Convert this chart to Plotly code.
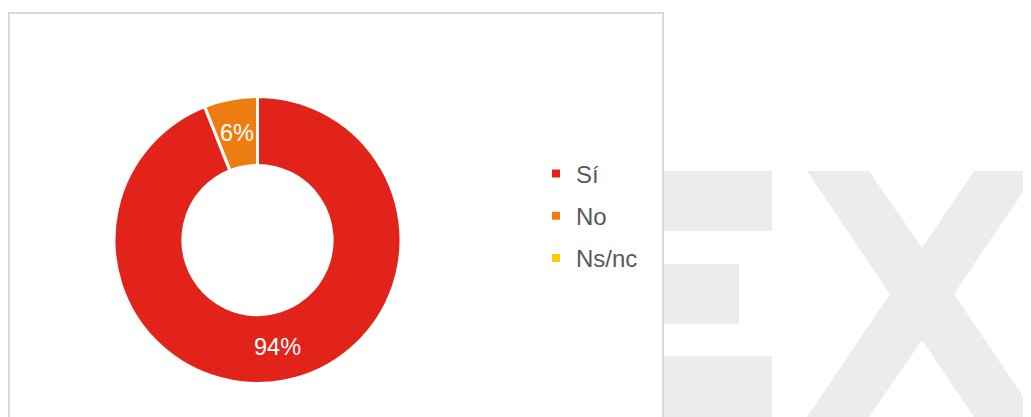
import math
import plotly.graph_objects as go

# Data
labels = ["Sí", "No", "Ns/nc"]
values = [94, 6, 0]
colors = ["#E2231A", "#EE7D11", "#FFCC00"]

# The page body has an 8px margin; size the figure so it fills the window
OFF = 8
W, H = 1031 - OFF, 417 - OFF

def px(x):
    return (x - OFF) / W

def py(y):
    return 1 - (y - OFF) / H

fig = go.Figure()

FONT = "Liberation Sans, Arial, sans-serif"

# Donut geometry (pixels in the window)
cx, cy, r = 257.5, 240.0, 143.5
hole = 0.52
fig.add_trace(go.Pie(
    labels=labels,
    values=values,
    textinfo="none",
    marker=dict(colors=colors, line=dict(color="white", width=3)),
    hole=hole,
    sort=False,
    direction="clockwise",
    rotation=0,
    showlegend=False,
    hoverinfo="label+percent",
    domain=dict(x=[px(cx - r), px(cx + r)], y=[py(cy + r), py(cy - r)]),
))

# Percentage labels placed at the middle of each ring segment
annotations = []
total = sum(values)
cum = 0.0
rm = r * (1 + hole) / 2
for v in values:
    if v > 0:
        mid = (cum + v / 2) / total * 2 * math.pi
        annotations.append(dict(
            xref="paper", yref="paper",
            x=px(cx + rm * math.sin(mid)), y=py(cy - rm * math.cos(mid)),
            text=f"{v}%", showarrow=False,
            font=dict(family=FONT, size=23.5, color="white"),
            xanchor="center", yanchor="middle",
        ))
    cum += v

# Legend entries (square markers)
for i, (lab, col) in enumerate(zip(labels, colors)):
    fig.add_trace(go.Scatter(
        x=[None], y=[None], mode="markers", name=lab,
        marker=dict(symbol="square", size=8, color=col),
        legendgroup=f"g{i}", showlegend=True, hoverinfo="skip",
    ))

shapes = []
wm = "#ECECEC"
# Watermark "E" bars
for (x0, x1, y0, y1) in [(600, 772, 171, 231), (600, 739, 264, 324), (600, 772, 356, 430)]:
    shapes.append(dict(type="rect", xref="paper", yref="paper",
                       x0=px(x0), x1=px(x1), y0=py(y1), y1=py(y0),
                       fillcolor=wm, line=dict(width=0), layer="below"))
# Watermark "X"
pts = [(807, 171), (869, 171), (922, 248), (974, 171), (1037, 171), (954, 294),
       (1037, 417), (974, 417), (922, 340), (869, 417), (807, 417), (890, 294)]
path = "M " + " L ".join(f"{px(a):.5f},{py(b):.5f}" for a, b in pts) + " Z"
shapes.append(dict(type="path", xref="paper", yref="paper", path=path,
                   fillcolor=wm, line=dict(width=0), layer="below"))
# White chart box with border
shapes.append(dict(type="rect", xref="paper", yref="paper",
                   x0=px(9), x1=px(663), y0=py(440), y1=py(13),
                   fillcolor="white", line=dict(color="#D9D9D9", width=2), layer="below"))

fig.update_layout(
    width=W, height=H,
    margin=dict(l=0, r=0, t=0, b=0),
    paper_bgcolor="white",
    plot_bgcolor="rgba(0,0,0,0)",
    xaxis=dict(visible=False),
    yaxis=dict(visible=False),
    shapes=shapes,
    annotations=annotations,
    legend=dict(
        x=px(536), y=py(151.5), xanchor="left", yanchor="top",
        font=dict(family=FONT, size=24, color="#595959"),
        tracegroupgap=8, bgcolor="rgba(0,0,0,0)", itemclick=False,
    ),
    font=dict(family=FONT),
)

fig.write_html("out.html")
